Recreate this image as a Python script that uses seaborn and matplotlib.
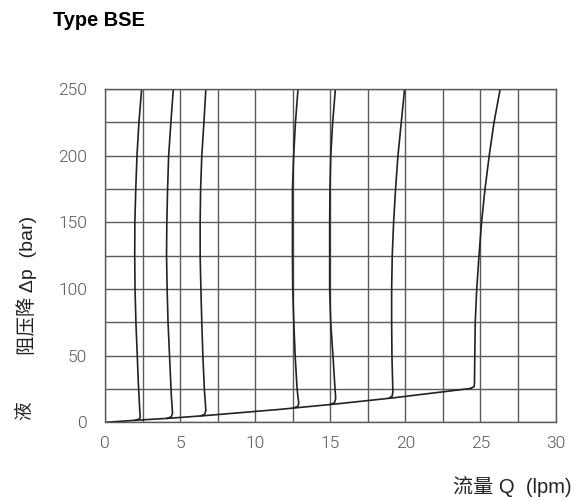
import matplotlib
matplotlib.use("Agg")
import matplotlib.pyplot as plt
import numpy as np
import pandas as pd
import seaborn as sns

# pressure-drop base line (flow lpm, pressure bar)
base_q = [0.0, 2.2, 4.3, 6.6, 11.6, 12.7, 15.3, 19.2, 24.4]
base_p = [0.0, 1.7, 3.1, 5.0, 9.7, 10.9, 13.7, 18.4, 25.5]

# characteristic curves rising from the base line
curve_q = {
    "c1": [1.95, 2.25, 2.33, 2.30, 2.20, 2.13, 2.04, 1.98, 1.96, 1.97, 2.03, 2.11, 2.24, 2.42],
    "c2": [4.10, 4.40, 4.48, 4.40, 4.28, 4.18, 4.12, 4.08, 4.10, 4.15, 4.22, 4.37, 4.53],
    "c3": [6.35, 6.62, 6.70, 6.60, 6.50, 6.43, 6.37, 6.32, 6.32, 6.35, 6.43, 6.57, 6.70],
    "c4": [12.50, 12.82, 12.89, 12.78, 12.65, 12.56, 12.49, 12.47, 12.47, 12.47, 12.55, 12.67, 12.84],
    "c5": [14.95, 15.28, 15.35, 15.28, 15.17, 15.02, 14.95, 14.95, 14.95, 14.97, 15.02, 15.15, 15.33],
    "c6": [18.90, 19.12, 19.16, 19.10, 19.08, 19.08, 19.12, 19.21, 19.34, 19.50, 19.72, 19.94],
    "c7": [24.30, 24.58, 24.60, 24.62, 24.65, 24.75, 24.90, 25.07, 25.30, 25.58, 25.90, 26.31],
}
curve_p = {
    "c1": [1.5, 2.4, 4, 8, 30, 50, 75, 100, 125, 150, 175, 200, 225, 250],
    "c2": [2.9, 4.2, 7, 20, 50, 75, 100, 125, 150, 175, 200, 225, 250],
    "c3": [4.8, 6.0, 9, 25, 50, 75, 100, 125, 150, 175, 200, 225, 250],
    "c4": [10.7, 11.9, 14, 25, 50, 75, 100, 125, 150, 175, 200, 225, 250],
    "c5": [13.3, 14.8, 18, 30, 50, 75, 100, 125, 150, 175, 200, 225, 250],
    "c6": [18.0, 19.8, 23, 50, 75, 100, 125, 150, 175, 200, 225, 250],
    "c7": [25.3, 26.8, 30, 50, 75, 100, 125, 150, 175, 200, 225, 250],
}

x_ticks = [0, 5, 10, 15, 20, 25, 30]
y_ticks = [0, 50, 100, 150, 200, 250]

sns.set_style("white")
plt.rcParams["font.family"] = ["Liberation Sans", "Noto Sans CJK SC", "DejaVu Sans"]

rows = []
for name in curve_q:
    for i, (q, p) in enumerate(zip(curve_q[name], curve_p[name])):
        rows.append({"curve": name, "order": i, "flow": q, "pressure": p})
curves = pd.DataFrame(rows)
base = pd.DataFrame({"flow": base_q, "pressure": base_p, "curve": "base"})

fig = plt.figure(figsize=(5.86, 5.01), dpi=100)
ax = fig.add_axes([0.1797, 0.157, 0.7683, 0.665])

grid_c = "#5a5a5a"
ax.set_xlim(0, 30)
ax.set_ylim(0, 250)
ax.set_xticks(x_ticks)
ax.set_yticks(y_ticks)
ax.set_xticks(np.arange(0, 30.1, 2.5), minor=True)
ax.set_yticks(np.arange(0, 251, 25), minor=True)
ax.grid(True, which="both", color=grid_c, linewidth=1.0)
ax.set_axisbelow(True)
for s in ax.spines.values():
    s.set_color(grid_c)
    s.set_linewidth(1.0)
ax.tick_params(which="minor", length=0)
ax.tick_params(which="major", direction="out", length=5, width=1.0, color=grid_c,
               labelcolor="#555555", labelsize=12.5)
ax.tick_params(axis="y", pad=8)
ax.tick_params(axis="x", pad=5)
for lab in ax.get_xticklabels() + ax.get_yticklabels():
    lab.set_family(["Roboto", "Liberation Sans"])
    lab.set_fontweight(300)

sns.lineplot(data=base, x="flow", y="pressure", sort=False, estimator=None,
             color="#222222", linewidth=1.2, ax=ax)
sns.lineplot(data=curves, x="flow", y="pressure", units="curve", sort=False,
             estimator=None, color="#222222", linewidth=1.2, ax=ax)
ax.set_xlabel("")
ax.set_ylabel("")

fig.text(0.0904, 0.948, "Type BSE", fontsize=14.4, fontweight="bold", ha="left",
         va="baseline", color="#000000")
fig.text(0.0452, 0.430, "阻压降 Δp  (bar)", rotation=90, fontsize=14, ha="center", va="center",
         color="#222222")
fig.text(0.0444, 0.180, "液", rotation=90, fontsize=13.5, ha="center", va="center", color="#222222")
fig.text(0.976, 0.028, "流量 Q  (lpm)", fontsize=14.5, ha="right", va="center", color="#222222")

fig.savefig("out.png", dpi=100)
